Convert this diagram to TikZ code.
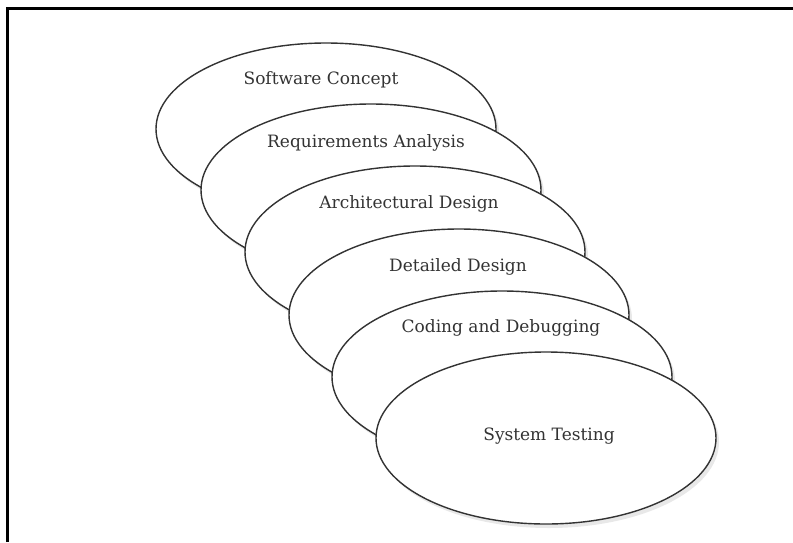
\documentclass[tikz,border=0pt]{standalone}
\usepackage{fontspec}
\setmainfont{DejaVu Serif}
\usetikzlibrary{shapes.geometric,shadows}
\definecolor{ink}{HTML}{333333}
\tikzset{
  phase/.style={ellipse, draw=ink, line width=1.4pt, fill=white, inner sep=0pt,
    minimum width=340pt, minimum height=172pt,
    drop shadow={shadow xshift=3pt, shadow yshift=-4pt, opacity=0.18, fill=gray}},
  lbl/.style={text=ink, font=\fontsize{17}{19}\selectfont, inner sep=0pt},
  frameline/.style={line width=2.2pt, black}
}
\begin{document}
\begin{tikzpicture}[x=1pt,y=-1pt]
\useasboundingbox (0,0) rectangle (793,542);
\fill[white] (0,0) rectangle (793,542);
\coordinate (fl) at (7.5,542);
\coordinate (fc) at (7.5,8.5);
\coordinate (fr) at (793,8.5);
\draw[frameline] (fl) -- (fc) -- (fr);
\node[phase] (e1) at (326,129) {};
\node[lbl] (t1) at (321,80) {Software Concept};
\node[phase] (e2) at (371,190) {};
\node[lbl] (t2) at (366,143) {Requirements Analysis};
\node[phase] (e3) at (415,252) {};
\node[lbl] (t3) at (409,204) {Architectural Design};
\node[phase] (e4) at (459,315) {};
\node[lbl] (t4) at (458,267) {Detailed Design};
\node[phase] (e5) at (502,377) {};
\node[lbl] (t5) at (501,328) {Coding and Debugging};
\node[phase] (e6) at (546,438) {};
\node[lbl] (t6) at (549,436) {System Testing};
\end{tikzpicture}
\end{document}
